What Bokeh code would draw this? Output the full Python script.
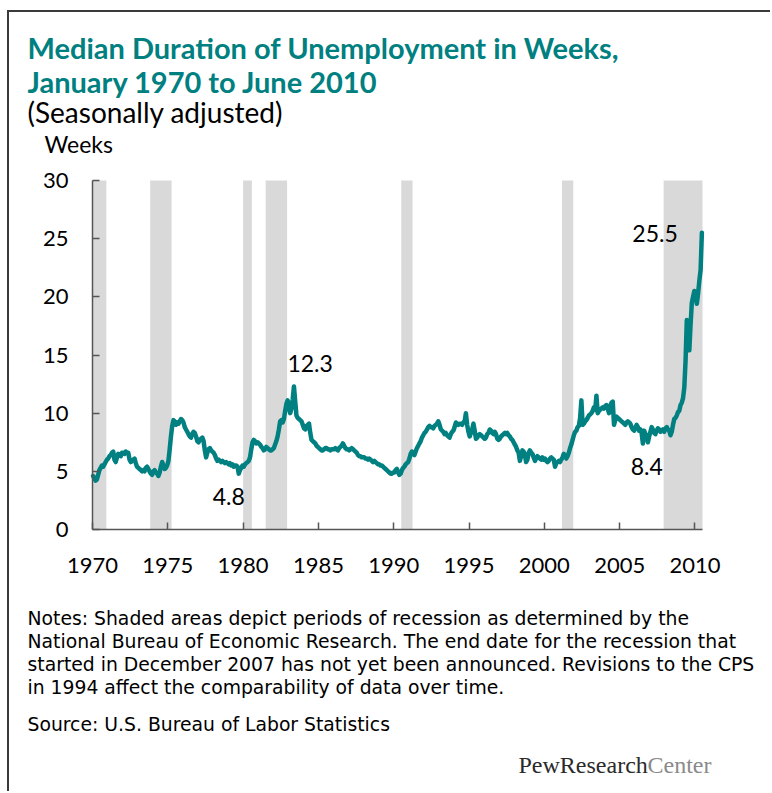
from bokeh.plotting import figure
from bokeh.models import Range1d, Label, FixedTicker
from bokeh.embed import file_html
from bokeh.resources import INLINE

# ---------------- data (monthly, Jan 1970 - Jun 2010, weeks) ----------------
weeks_1970s = [
    4.6, 4.4, 4.2, 4.3, 4.7, 5.1, 5.3, 5.5, 5.4, 5.6, 5.8, 6.0,
    6.1, 6.3, 6.4, 6.6, 6.7, 6.0, 5.8, 6.2, 6.5, 6.4, 6.3, 6.6,
    6.6, 6.5, 6.7, 6.6, 6.6, 6.0, 5.8, 5.9, 6.0, 6.1, 5.7, 5.4,
    5.3, 5.2, 5.1, 5.0, 5.1, 5.0, 5.3, 5.4, 5.2, 5.0, 4.8, 4.7,
    5.0, 5.1, 4.9, 4.8, 4.6, 4.9, 5.4, 5.8, 5.5, 5.2, 5.3, 5.5,
    5.9, 6.9, 8.0, 8.9, 9.4, 9.3, 9.0, 9.2, 9.1, 9.3, 9.5, 9.4,
    9.2, 8.8, 8.6, 8.4, 8.2, 8.0, 7.9, 8.2, 8.4, 8.3, 8.0, 7.6,
    7.5, 7.7, 7.8, 7.9, 7.6, 6.8, 6.2, 6.6, 6.9, 7.0, 6.8, 6.7,
    6.6, 6.4, 6.1, 5.9, 6.0, 5.9, 5.8, 5.9, 5.8, 5.7, 5.8, 5.7,
    5.6, 5.7, 5.5, 5.6, 5.4, 5.5, 5.5, 5.4, 4.8, 5.1, 5.3, 5.5,
]
weeks_1980s = [
    5.4, 5.6, 5.7, 5.8, 5.9, 6.2, 6.9, 7.5, 7.7, 7.6, 7.4, 7.5,
    7.4, 7.3, 7.1, 7.0, 6.8, 6.9, 7.1, 7.0, 6.9, 6.8, 6.8, 6.9,
    7.0, 7.3, 7.6, 8.0, 8.6, 9.3, 9.4, 9.2, 9.5, 10.2, 10.8, 11.1,
    10.5, 10.0, 10.4, 11.2, 12.3, 11.0, 9.8, 9.6, 9.5, 9.4, 9.3, 9.0,
    8.7, 8.6, 8.9, 9.0, 9.1, 8.3, 7.7, 7.6, 7.5, 7.4, 7.2, 7.1,
    7.0, 6.9, 6.8, 6.8, 6.9, 7.0, 7.0, 6.9, 6.9, 6.8, 6.9, 6.9,
    6.9, 7.0, 6.9, 6.8, 7.0, 7.1, 7.2, 7.4, 7.2, 7.0, 6.9, 6.9,
    6.8, 6.9, 7.0, 6.9, 6.8, 6.7, 6.6, 6.4, 6.3, 6.3, 6.2, 6.2,
    6.2, 6.1, 6.1, 6.0, 6.1, 6.0, 5.9, 5.8, 5.9, 5.8, 5.7, 5.6,
    5.6, 5.5, 5.5, 5.4, 5.3, 5.2, 5.1, 5.0, 4.9, 4.8, 4.8, 4.9,
]
weeks_1990s = [
    4.9, 5.1, 5.2, 4.9, 4.7, 4.8, 5.1, 5.3, 5.4, 5.6, 5.7, 5.8,
    6.1, 6.5, 6.7, 6.5, 6.4, 6.7, 7.0, 7.2, 7.4, 7.6, 7.9, 8.1,
    8.3, 8.4, 8.6, 8.8, 8.9, 8.8, 8.8, 8.7, 8.9, 9.0, 9.1, 9.3,
    9.0, 8.6, 8.5, 8.4, 8.2, 8.3, 8.1, 8.0, 7.9, 8.2, 8.4, 8.5,
    8.8, 9.2, 9.1, 9.0, 9.1, 9.1, 9.0, 9.2, 9.3, 10.0, 9.0, 8.4,
    8.0, 8.3, 8.6, 9.1, 8.5, 7.8, 7.9, 8.1, 8.2, 8.1, 8.0, 7.9,
    7.8, 7.9, 8.2, 8.3, 8.6, 8.5, 8.3, 8.2, 8.4, 8.2, 7.8, 7.7,
    7.8, 8.0, 8.1, 8.2, 8.3, 8.2, 8.3, 8.1, 8.0, 7.8, 7.7, 7.5,
    7.3, 7.1, 6.8, 6.6, 5.9, 6.3, 6.8, 6.7, 6.4, 5.8, 6.0, 6.6,
    6.8, 6.6, 6.5, 6.2, 5.9, 6.1, 6.3, 6.2, 6.1, 6.0, 6.2, 6.0,
]
weeks_2000s = [
    6.1, 5.9, 5.8, 5.9, 6.1, 6.2, 6.1, 6.0, 5.4, 5.7, 5.8, 5.9,
    5.8, 6.0, 6.2, 6.5, 6.3, 6.1, 6.3, 6.6, 7.0, 7.3, 7.7, 8.1,
    8.4, 8.5, 8.8, 8.9, 9.6, 11.1, 9.0, 9.1, 9.3, 9.4, 9.6, 9.8,
    9.9, 10.0, 10.2, 10.5, 10.3, 11.5, 10.0, 10.2, 10.3, 10.4, 10.5, 10.4,
    10.6, 10.7, 10.4, 10.0, 10.6, 10.9, 11.0, 9.0, 9.4, 9.7, 9.6, 9.5,
    9.4, 9.3, 9.2, 9.1, 9.0, 9.2, 9.3, 9.2, 9.1, 8.8, 8.6, 8.5,
    8.7, 9.0, 8.8, 8.5, 8.6, 8.3, 7.4, 8.5, 8.2, 8.1, 7.5, 8.0,
    8.4, 8.8, 8.6, 8.3, 8.2, 8.5, 8.7, 8.6, 8.4, 8.5, 8.6, 8.4,
    8.7, 8.8, 8.6, 8.5, 8.1, 8.4, 9.0, 9.5, 9.6, 9.8, 10.1, 10.2,
    10.7, 10.9, 11.3, 12.2, 14.5, 18.0, 16.0, 15.4, 17.6, 19.5, 20.0, 20.5,
]
weeks_2010 = [20.0, 19.4, 20.3, 21.4, 22.3, 25.5]

# NBER recessions (decimal years)
rec_start = [1970.0, 1973.83, 1980.0, 1981.5, 1990.5, 2001.17, 2007.92]
rec_end = [1970.92, 1975.25, 1980.58, 1982.92, 1991.25, 2001.92, 2010.5]

x_ticks = [1970, 1975, 1980, 1985, 1990, 1995, 2000, 2005, 2010]
y_ticks = [0, 5, 10, 15, 20, 25, 30]

ann_text = ["12.3", "4.8", "25.5", "8.4"]
ann_x = [1984.45, 1979.05, 2007.35, 2006.8]
ann_y = [14.3, 2.8, 25.45, 5.45]

title_1 = "Median Duration of Unemployment in Weeks,"
title_2 = "January 1970 to June 2010"
subtitle = "(Seasonally adjusted)"
unit_label = "Weeks"
notes = [
    "Notes: Shaded areas depict periods of recession as determined by the",
    "National Bureau of Economic Research. The end date for the recession that",
    "started in December 2007 has not yet been announced. Revisions to the CPS",
    "in 1994 affect the comparability of data over time.",
]
source = "Source: U.S. Bureau of Labor Statistics"

weeks = weeks_1970s + weeks_1980s + weeks_1990s + weeks_2000s + weeks_2010
months = [1970 + (i + 0.5) / 12 for i in range(len(weeks))]

# ---------------- layout (page pixels) ----------------
OX, OY = 9, 12                      # canvas offset on page (margin + border)
W, H = 772 - OX, 793 - OY
X0, X1, Y0, Y1 = 1970, 2010.5, 0, 30
F_LEFT, F_RIGHT, F_TOP, F_BOT = 92, 702, 180, 529   # plot area on page
PXY = (F_RIGHT - F_LEFT) / (X1 - X0)
PXW = (F_BOT - F_TOP) / (Y1 - Y0)

# the frame spans the whole canvas; the axes are pinned at the data origin
x_range = Range1d(X0 - (F_LEFT - OX) / PXY, X0 + (OX + W - F_LEFT) / PXY)
y_range = Range1d(Y0 - (OY + H - F_BOT) / PXW, Y0 + (F_BOT - OY) / PXW)

p = figure(width=W, height=H, x_range=x_range, y_range=y_range,
           output_backend="svg", toolbar_location=None, min_border=0,
           styles={"margin-left": "7px", "margin-top": "10px",
                   "border-left": "2px solid #3a3a3a", "border-top": "2px solid #3a3a3a"})
p.outline_line_color = None
p.grid.visible = False
p.background_fill_color = "white"
p.border_fill_color = "white"

TEAL = "#008080"
p.quad(left=rec_start, right=rec_end, bottom=Y0, top=Y1,
       fill_color="#D9D9D9", line_color=None)
p.line(months, weeks, line_width=4.5, line_color=TEAL, line_join="round", line_cap="round")

AX = "#555555"
for ax in (p.xaxis[0], p.yaxis[0]):
    ax.axis_line_color = AX
    ax.axis_line_width = 1.5
    ax.major_tick_line_color = AX
    ax.major_tick_line_width = 1.5
    ax.major_tick_in = 7
    ax.major_tick_out = 0
    ax.minor_tick_line_color = None
    ax.major_label_text_font = "Lato"
    ax.major_label_text_font_size = "22px"
    ax.major_label_text_color = "#000000"
p.xaxis.ticker = FixedTicker(ticks=x_ticks)
p.yaxis.ticker = FixedTicker(ticks=y_ticks)
p.xaxis.bounds = (X0, X1)
p.yaxis.bounds = (Y0, Y1)
p.xaxis.fixed_location = Y0
p.yaxis.fixed_location = X0
p.xaxis.major_label_standoff = 28
p.yaxis.major_label_standoff = 24


def add_text(text, page_x, page_y, size, color="#000000", font="Lato",
             style="normal", align="left"):
    p.add_layout(Label(x=X0 + (page_x - F_LEFT) / PXY, y=Y0 + (F_BOT - page_y) / PXW,
                       text=text, text_font=font, text_font_size=size,
                       text_font_style=style, text_color=color,
                       text_align=align, text_baseline="middle"))


add_text(title_1, 27, 47, "29px", TEAL, style="bold")
add_text(title_2, 27, 81, "29px", TEAL, style="bold")
add_text(subtitle, 27, 111, "28px")
add_text(unit_label, 44, 143, "23px")

for t, xv, yv in zip(ann_text, ann_x, ann_y):
    p.add_layout(Label(x=xv, y=yv, text=t, text_font="Lato", text_font_size="23px",
                       text_color="#000000", text_align="center", text_baseline="middle"))

for i, line in enumerate(notes):
    add_text(line, 27, 618 + 23 * i, "18.8px", font="DejaVu Sans")
add_text(source, 27, 724, "18.8px", font="DejaVu Sans")

add_text("PewResearch", 518, 764, "24px", "#2a2a2a", font="Liberation Serif")
add_text("Center", 647, 764, "24px", "#8a8a8a", font="Liberation Serif")

open("out.html", "w").write(file_html(p, INLINE))
